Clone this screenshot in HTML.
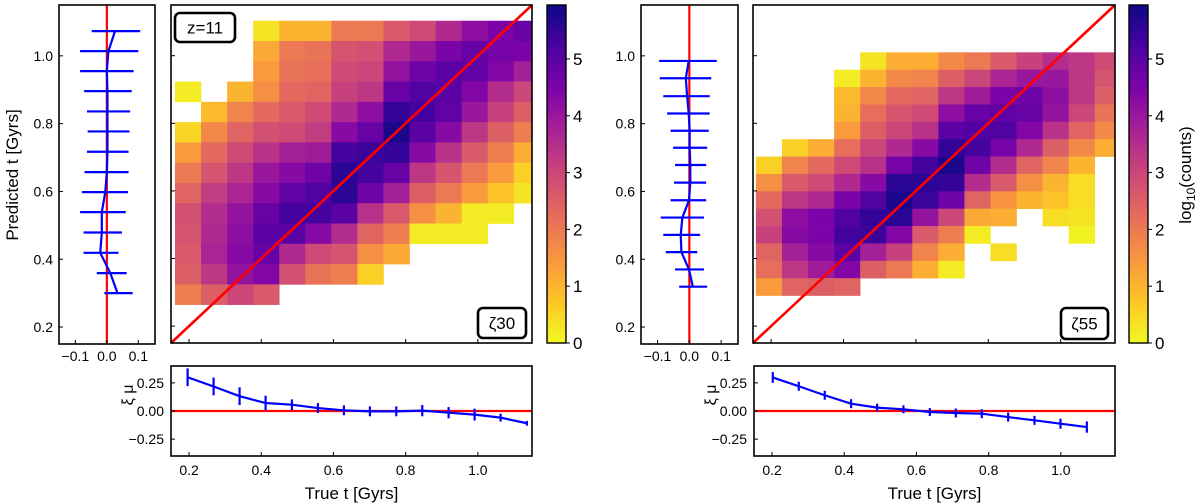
<!DOCTYPE html>
<html><head><meta charset="utf-8"><style>
html,body{margin:0;padding:0;background:#fff;}
svg{display:block;font-family:"Liberation Sans","DejaVu Sans",sans-serif;}
</style></head><body>
<svg id="fig" xmlns="http://www.w3.org/2000/svg" width="1200" height="504" viewBox="0 0 1200 504">
<defs>
<linearGradient id="cbgrad" x1="0" y1="1" x2="0" y2="0">
<stop offset="0" stop-color="#f0f921"/><stop offset="0.125" stop-color="#fdc527"/><stop offset="0.25" stop-color="#f89540"/><stop offset="0.375" stop-color="#e66c5c"/><stop offset="0.5" stop-color="#cc4778"/><stop offset="0.625" stop-color="#a92395"/><stop offset="0.75" stop-color="#7e03a8"/><stop offset="0.875" stop-color="#4c02a1"/><stop offset="1" stop-color="#0d0887"/>
</linearGradient>
</defs>
</svg>
<script>
// ---------- data ----------
const n = null;
const leftGrid = [
[n,n,n,0.3,1.0,1.0,2.0,2.0,2.6,2.9,3.6,4.2,4.5,4.8],
[n,n,n,1.2,2.0,2.1,2.7,2.8,3.6,4.0,4.5,4.8,4.6,4.5],
[n,n,n,1.4,2.1,2.2,2.9,3.0,4.1,4.7,5.0,4.9,4.4,3.8],
[0.2,n,1.0,1.6,2.3,2.4,3.1,3.3,4.8,5.1,5.0,4.4,3.5,3.0],
[n,0.9,1.8,2.3,2.6,2.9,3.6,4.2,5.5,5.3,4.9,4.0,3.1,2.5],
[0.5,1.7,2.4,2.8,2.9,3.2,4.3,4.8,5.8,5.0,4.3,3.3,2.5,1.9],
[1.4,2.3,2.9,3.4,3.8,3.9,5.3,5.4,5.5,4.3,3.4,2.6,1.9,1.1],
[2.0,2.7,3.3,4.0,4.3,4.7,5.6,5.3,4.8,3.3,2.7,2.0,1.4,0.6],
[2.4,3.2,3.7,4.3,4.9,5.1,5.6,4.7,3.8,2.5,2.0,1.4,0.8,0.3],
[2.8,3.5,4.1,4.8,5.3,5.3,5.0,3.4,2.6,1.6,1.0,0.2,0.2,n],
[2.7,3.6,4.2,5.0,5.0,4.3,3.5,2.4,1.9,0.2,0.2,0.2,n,n],
[2.6,3.7,4.3,4.8,3.6,2.9,2.7,1.6,1.2,n,n,n,n,n],
[2.5,3.3,4.1,4.4,2.8,2.1,1.9,0.6,n,n,n,n,n,n],
[1.9,2.5,3.0,2.6,n,n,n,n,n,n,n,n,n,n]];
const rightGrid = [
[n,n,n,n,0.3,1.1,1.1,1.7,2.0,2.6,3.1,3.5,3.3,2.9],
[n,n,n,0.2,1.0,1.7,1.8,2.5,3.0,3.7,4.0,4.0,3.3,2.7],
[n,n,n,0.9,1.7,2.3,2.4,3.3,3.9,4.5,4.7,4.2,3.3,2.5],
[n,n,n,1.0,2.2,2.7,2.9,4.2,4.8,4.9,4.8,4.1,3.0,2.1],
[n,n,n,1.4,2.5,3.0,3.4,5.0,5.1,5.1,4.4,3.4,2.4,1.7],
[n,0.6,1.1,2.2,3.0,3.6,4.3,5.5,5.3,4.6,3.6,2.5,1.7,1.1],
[0.6,1.8,2.3,2.9,3.4,4.6,5.3,5.8,4.7,3.5,2.4,1.8,1.0,n],
[1.6,2.6,2.9,3.6,4.3,5.6,5.6,5.5,3.5,2.6,1.6,1.0,0.4,n],
[2.3,3.3,3.6,4.5,5.1,5.8,5.4,4.7,2.4,1.5,1.0,0.8,0.4,n],
[2.8,4.2,4.5,5.1,5.5,5.6,4.1,3.0,1.2,1.1,n,0.4,0.3,n],
[3.1,4.3,4.5,5.3,5.4,4.4,2.6,1.9,0.2,n,n,n,0.1,n],
[2.4,3.8,4.3,5.0,3.8,3.1,1.8,1.1,n,0.4,n,n,n,n],
[2.2,3.3,3.9,4.4,2.5,2.0,1.1,0.2,n,n,n,n,n,n],
[1.4,2.4,2.5,2.4,n,n,n,n,n,n,n,n,n,n]];
const leftBinX = [0.161, 0.0722];
const leftBinY = [1.1035, 0.060];
const rightBinX = [0.158, 0.0720];
const rightBinY = [1.010, 0.0514];
const leftSideT = [1.073,1.014,0.955,0.896,0.836,0.777,0.717,0.657,0.598,0.539,0.479,0.419,0.359,0.300];
const leftSideMu = [0.026,0.005,0,0.002,0.002,0.002,0.002,0,-0.005,-0.016,-0.016,-0.021,0.011,0.034];
const leftSideLo = [-0.048,-0.085,-0.085,-0.072,-0.063,-0.061,-0.063,-0.071,-0.079,-0.085,-0.074,-0.074,-0.032,-0.008];
const leftSideHi = [0.106,0.100,0.085,0.079,0.074,0.072,0.069,0.069,0.067,0.060,0.048,0.037,0.063,0.082];
const rightSideT = [0.985,0.934,0.881,0.830,0.779,0.729,0.678,0.626,0.574,0.523,0.472,0.421,0.370,0.319];
const rightSideMu = [-0.002,-0.011,-0.007,-0.002,0.001,0.001,0.003,0.003,-0.001,-0.022,-0.027,-0.025,-0.001,0.011];
const rightSideLo = [-0.095,-0.093,-0.082,-0.070,-0.059,-0.051,-0.045,-0.048,-0.059,-0.090,-0.082,-0.074,-0.045,-0.032];
const rightSideHi = [0.086,0.069,0.064,0.064,0.061,0.056,0.053,0.053,0.053,0.046,0.034,0.025,0.046,0.056];
const leftBotT = [0.196,0.268,0.340,0.412,0.485,0.557,0.629,0.701,0.774,0.846,0.919,0.991,1.063,1.136];
const leftBotMu = [0.300,0.218,0.132,0.071,0.056,0.026,0.006,-0.003,-0.003,0.003,-0.015,-0.032,-0.059,-0.109];
const leftBotErr = [0.079,0.079,0.079,0.065,0.047,0.044,0.044,0.044,0.044,0.05,0.05,0.053,0.035,0.021];
const rightBotT = [0.202,0.274,0.346,0.419,0.491,0.564,0.637,0.709,0.781,0.854,0.927,0.999,1.072];
const rightBotMu = [0.298,0.220,0.140,0.065,0.030,0.015,-0.009,-0.018,-0.024,-0.054,-0.083,-0.113,-0.143];
const rightBotErr = [0.048,0.04,0.04,0.04,0.035,0.035,0.035,0.04,0.04,0.04,0.04,0.045,0.05];
const tTicks = [0.2,0.4,0.6,0.8,1.0];
const tTickLabels = ["0.2","0.4","0.6","0.8","1.0"];
const sideTicks = [-0.1,0.0,0.1];
const sideTickLabels = ["\u22120.1","0.0","0.1"];
const resTicks = [0.25,0,-0.25];
const resTickLabels = ["0.25","0.00","\u22120.25"];
const cbTicks = [0,1,2,3,4,5];
const cbTickLabels = ["0","1","2","3","4","5"];
const cbMax = 5.95;

// ---------- helpers ----------
const svg = document.getElementById('fig');
const NS = 'http://www.w3.org/2000/svg';
function mk(tag, attrs, parent){const e=document.createElementNS(NS,tag);for(const k in attrs)e.setAttribute(k,attrs[k]);(parent||svg).appendChild(e);return e;}
function lin(d0,d1,r0,r1){return v=>r0+(v-d0)/(d1-d0)*(r1-r0);}
const stops=[[13,8,135],[76,2,161],[126,3,168],[169,35,149],[204,71,120],[230,108,92],[248,149,64],[253,197,39],[240,249,33]];
function plasmaR(v){let t=1-Math.max(0,Math.min(1,v/cbMax));const p=t*8;const i=Math.min(7,Math.floor(p));const f=p-i;const a=stops[i],b=stops[i+1];return 'rgb('+a.map((c,k)=>Math.round(c+(b[k]-c)*f)).join(',')+')';}
function txt(x,y,s,size,anchor,parent){const e=mk('text',{x:x,y:y,'font-size':size,'text-anchor':anchor||'middle',fill:'#000'},parent);e.textContent=s;return e;}

function heatmap(box,grid,bx,by,tag){
  const sx=lin(0.15,1.15,box.x0,box.x1), sy=lin(0.15,1.15,box.y1,box.y0);
  const g=mk('g',{});
  
  
  grid.forEach((row,r)=>row.forEach((v,c)=>{
    if(v===null)return;
    const xa=bx[0]+c*bx[1], xb=Math.min(xa+bx[1],1.15);
    const ya=by[0]-r*by[1], yb=ya-by[1];
    const rc=mk('rect',{x:sx(xa),y:sy(ya),width:sx(xb)-sx(xa)+0.3,height:sy(yb)-sy(ya)+0.3,fill:plasmaR(v)},g);
    
    
  }));
  const d=mk('line',{x1:sx(0.15),y1:sy(0.15),x2:sx(1.15),y2:sy(1.15),stroke:'#ff0000','stroke-width':2.6});
  
  
  ticksLB(box,sx,sy,tTicks,tTicks);
  frame(box,tag+'-main-frame');
}
function ticksLB(box,sx,sy,xt,yt){
  xt.forEach(v=>mk('line',{x1:sx(v),x2:sx(v),y1:box.y1,y2:box.y1-4,stroke:'#000','stroke-width':1}));
  yt.forEach(v=>mk('line',{x1:box.x0,x2:box.x0+4,y1:sy(v),y2:sy(v),stroke:'#000','stroke-width':1}));
}
function frame(box,name){
  const f=mk('rect',{x:box.x0,y:box.y0,width:box.x1-box.x0,height:box.y1-box.y0,fill:'none',stroke:'#000','stroke-width':1.6});
  
  
}
function sidePanel(box,T,M,L,H,tag){
  const sx=lin(-0.152,0.153,box.x0,box.x1), sy=lin(0.15,1.15,box.y1,box.y0);
  const r=mk('line',{x1:sx(0),x2:sx(0),y1:box.y0,y2:box.y1,stroke:'#ff0000','stroke-width':2.2});
  
  
  T.forEach((t,i)=>{
    const e=mk('line',{x1:sx(L[i]),x2:sx(H[i]),y1:sy(t),y2:sy(t),stroke:'#0000ff','stroke-width':2.2});
    
    
  });
  const p=mk('polyline',{points:T.map((t,i)=>sx(M[i])+','+sy(t)).join(' '),fill:'none',stroke:'#0000ff','stroke-width':2.2});
  
  
  ticksLB(box,sx,sy,sideTicks,tTicks);
  tTicks.forEach((v,i)=>{const e=txt(box.x0-6,sy(v)+5,tTickLabels[i],14,'end');});
  sideTicks.forEach((v,i)=>{const e=txt(sx(v),box.y1+17,sideTickLabels[i],14,'middle');});
  frame(box,tag+'-side-frame');
}
function botPanel(box,T,M,E,tag){
  const sx=lin(0.15,1.15,box.x0,box.x1), sy=lin(-0.4,0.4,box.y1,box.y0);
  const r=mk('line',{x1:box.x0,x2:box.x1,y1:sy(0),y2:sy(0),stroke:'#ff0000','stroke-width':2.2});
  
  
  T.forEach((t,i)=>{
    const e=mk('line',{x1:sx(t),x2:sx(t),y1:sy(M[i]-E[i]),y2:sy(M[i]+E[i]),stroke:'#0000ff','stroke-width':2.2});
    
    
  });
  const p=mk('polyline',{points:T.map((t,i)=>sx(t)+','+sy(M[i])).join(' '),fill:'none',stroke:'#0000ff','stroke-width':2.2});
  
  
  ticksLB(box,sx,sy,tTicks,resTicks);
  tTicks.forEach((v,i)=>{const e=txt(sx(v),box.y1+19,tTickLabels[i],14,'middle');});
  resTicks.forEach((v,i)=>{const e=txt(box.x0-7,sy(v)+5,resTickLabels[i],14,'end');});
  const xl=txt((box.x0+box.x1)/2,box.y1+43,'True t [Gyrs]',17,'middle');
  
  
  const yl=txt(0,0,'\u03be      \u03bc',16,'middle');
  yl.setAttribute('transform','translate('+(box.x0-38)+','+((box.y0+box.y1)/2-16)+') rotate(-90)');
  
  
  frame(box,tag+'-bottom-frame');
}
function colorbar(box,tag){
  const r=mk('rect',{x:box.x0,y:box.y0,width:box.x1-box.x0,height:box.y1-box.y0,fill:'url(#cbgrad)',stroke:'#000','stroke-width':1.4});
  
  
  const sy=lin(0,cbMax,box.y1,box.y0);
  cbTicks.forEach((v,i)=>{
    mk('line',{x1:box.x1,x2:box.x1+4,y1:sy(v),y2:sy(v),stroke:'#000','stroke-width':1});
    const e=txt(box.x1+7,sy(v)+6,cbTickLabels[i],17,'start');
    
    
  });
}
function badge(x,y,w,h,s,name){
  const r=mk('rect',{x:x,y:y,width:w,height:h,rx:5,fill:'#fff',stroke:'#000','stroke-width':2.6});
  
  
  const t=txt(x+w/2,y+h/2+6,s,17,'middle');
  
  
}

// ---------- layout ----------
sidePanel({x0:59,x1:155,y0:5,y1:344},leftSideT,leftSideMu,leftSideLo,leftSideHi,'left');
heatmap({x0:171,x1:532,y0:5,y1:343},leftGrid,leftBinX,leftBinY,'left');
colorbar({x0:547,x1:566,y0:5,y1:343},'left');
botPanel({x0:171,x1:532,y0:366,y1:456},leftBotT,leftBotMu,leftBotErr,'left');
badge(175,13,60,29,'z=11','redshift-label');
badge(478,308,48,30,'\u03b630','left-model-label');

sidePanel({x0:641,x1:738,y0:5,y1:344},rightSideT,rightSideMu,rightSideLo,rightSideHi,'right');
heatmap({x0:753,x1:1115,y0:5,y1:343},rightGrid,rightBinX,rightBinY,'right');
colorbar({x0:1129,x1:1148,y0:5,y1:343},'right');
botPanel({x0:754,x1:1115,y0:366,y1:456},rightBotT,rightBotMu,rightBotErr,'right');
badge(1061,308,47,31,'\u03b655','right-model-label');

const yt=txt(0,0,'Predicted t [Gyrs]',17,'middle');
yt.setAttribute('transform','translate(18,175) rotate(-90)');


const cl=mk('text',{x:0,y:0,'font-size':17,'text-anchor':'middle',fill:'#000',transform:'translate(1191,175) rotate(-90)'});
cl.innerHTML='log<tspan font-size="12" dy="4">10</tspan><tspan dy="-4">(counts)</tspan>';


</script>
</body></html>
